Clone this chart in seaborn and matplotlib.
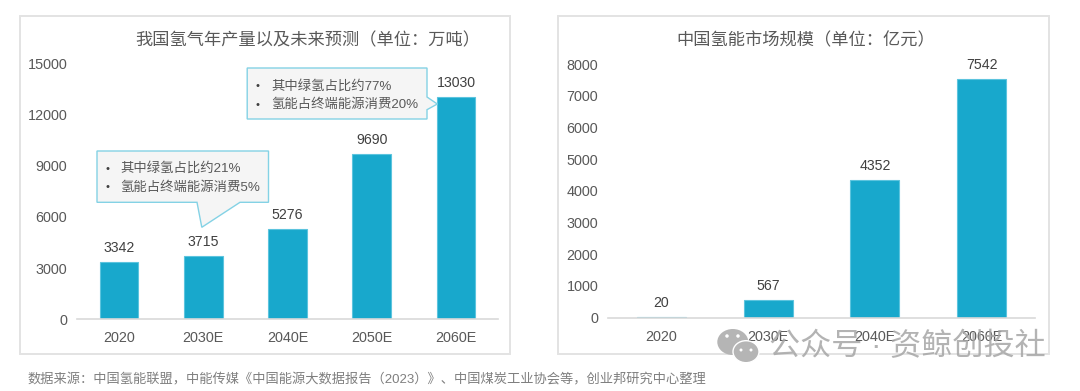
import seaborn as sns
import pandas as pd
import matplotlib.pyplot as plt
from matplotlib.patches import Polygon, Rectangle, Ellipse
from matplotlib.transforms import Affine2D

# Data
output_years = ['2020', '2030E', '2040E', '2050E', '2060E']
output_values = [3342, 3715, 5276, 9690, 13030]
output_ticks = [0, 3000, 6000, 9000, 12000, 15000]

market_years = ['2020', '2030E', '2040E', '2060E']
market_values = [20, 567, 4352, 7542]
market_ticks = [0, 1000, 2000, 3000, 4000, 5000, 6000, 7000, 8000]

output_title = '我国氢气年产量以及未来预测（单位：万吨）'
market_title = '中国氢能市场规模（单位：亿元）'
note_2030 = ['其中绿氢占比约21%', '氢能占终端能源消费5%']
note_2060 = ['其中绿氢占比约77%', '氢能占终端能源消费20%']
source = '数据来源：中国氢能联盟，中能传媒《中国能源大数据报告（2023）》、中国煤炭工业协会等，创业邦研究中心整理'
watermark = '公众号 · 资鲸创投社'

W, H = 1080, 391
BAR = '#18A8CC'
BAR_EDGE = '#5CC4DE'
TEXT = '#595959'
LINE = '#D9D9D9'
FRAME = '#E3E3E3'

sns.set_theme(style='white')
plt.rcParams['font.family'] = ['Liberation Sans', 'Noto Sans CJK SC', 'DejaVu Sans']

fig = plt.figure(figsize=(W / 100, H / 100), dpi=100, facecolor='white')
# annotations are placed in image pixels, y going down
px = Affine2D().scale(1 / W, -1 / H).translate(0, 1) + fig.transFigure


def bar_panel(left, right, top, bottom, cats, vals, ticks, title, title_x):
    ax = fig.add_axes([left / W, 1 - bottom / H, (right - left) / W, (bottom - top) / H])
    df = pd.DataFrame({'year': cats, 'value': vals})
    sns.barplot(data=df, x='year', y='value', color=BAR, saturation=1, width=0.458,
                edgecolor=BAR_EDGE, linewidth=0.8, ax=ax)
    ax.bar_label(ax.containers[0], fontsize=10.2, color='#404040', padding=5)
    ax.set_xlim(-0.5, len(cats) - 0.5)
    ax.set_ylim(0, ticks[-1])
    ax.set_yticks(ticks)
    ax.set_xlabel('')
    ax.set_ylabel('')
    ax.tick_params(axis='y', length=0, pad=7, labelsize=10.4, labelcolor=TEXT)
    ax.tick_params(axis='x', length=0, pad=8.5, labelsize=10.4, labelcolor=TEXT)
    ax.patch.set_alpha(0)
    sns.despine(ax=ax, left=True)
    ax.spines['bottom'].set_color(LINE)
    ax.spines['bottom'].set_linewidth(1.2)
    fig.text(title_x, 40.5, title, transform=px, ha='center', va='center',
             fontsize=12.4, color=TEXT)
    return ax


def callout(points, lines, bullet_x, text_x, line_y):
    fig.add_artist(Polygon(points, closed=True, transform=px, facecolor='#F5F5F5',
                           edgecolor='#84D2E5', linewidth=1, zorder=4))
    for y, line in zip(line_y, lines):
        fig.text(bullet_x, y, '•', transform=px, ha='center', va='center',
                 fontsize=8, color='#404040', zorder=5)
        fig.text(text_x, y, line, transform=px, ha='left', va='center',
                 fontsize=9.6, color=TEXT, zorder=5)


# panel frames
for x0, x1 in [(19.5, 509.5), (558, 1048.5)]:
    fig.add_artist(Rectangle((x0, 16), x1 - x0, 338, transform=px, facecolor='white',
                             edgecolor=FRAME, linewidth=1.4, zorder=-1))

bar_panel(77, 498, 63.5, 319.3, output_years, output_values, output_ticks, output_title, 308)
bar_panel(608, 1035, 64, 317.7, market_years, market_values, market_ticks, market_title, 806)

callout([(97, 151), (268.5, 151), (268.5, 202.3), (240, 202.3), (201.8, 227.3), (197, 202.3), (97, 202.3)],
        note_2030, 108, 120, [168.7, 187.3])
callout([(247.2, 68), (427, 68), (427, 97), (437.3, 104), (427, 109.7), (427, 119), (247.2, 119)],
        note_2060, 258, 271, [86, 104.7])

fig.text(28, 380, source, transform=px, ha='left', va='center', fontsize=9.52, color='#7F7F7F')

# wechat style watermark on top of the right panel
wm = '#A6A6A6'
fig.add_artist(Ellipse((732.8, 342), 31, 26, transform=px, facecolor='#B5B5B5', edgecolor='none', zorder=6))
fig.add_artist(Ellipse((746, 351.7), 26, 22, transform=px, facecolor='#B5B5B5', edgecolor='white',
                       linewidth=1, zorder=7))
for ex, ey, r in [(727, 336, 3.5), (738, 336, 3.5), (741, 350, 3), (751, 350, 3)]:
    fig.add_artist(Ellipse((ex, ey), r, r, transform=px, facecolor='white', edgecolor='none', zorder=8))
fig.text(907.5, 347, watermark, transform=px, ha='center', va='center', fontsize=22.4,
         color=wm, alpha=0.85, zorder=9)

fig.savefig('out.png', dpi=100)
